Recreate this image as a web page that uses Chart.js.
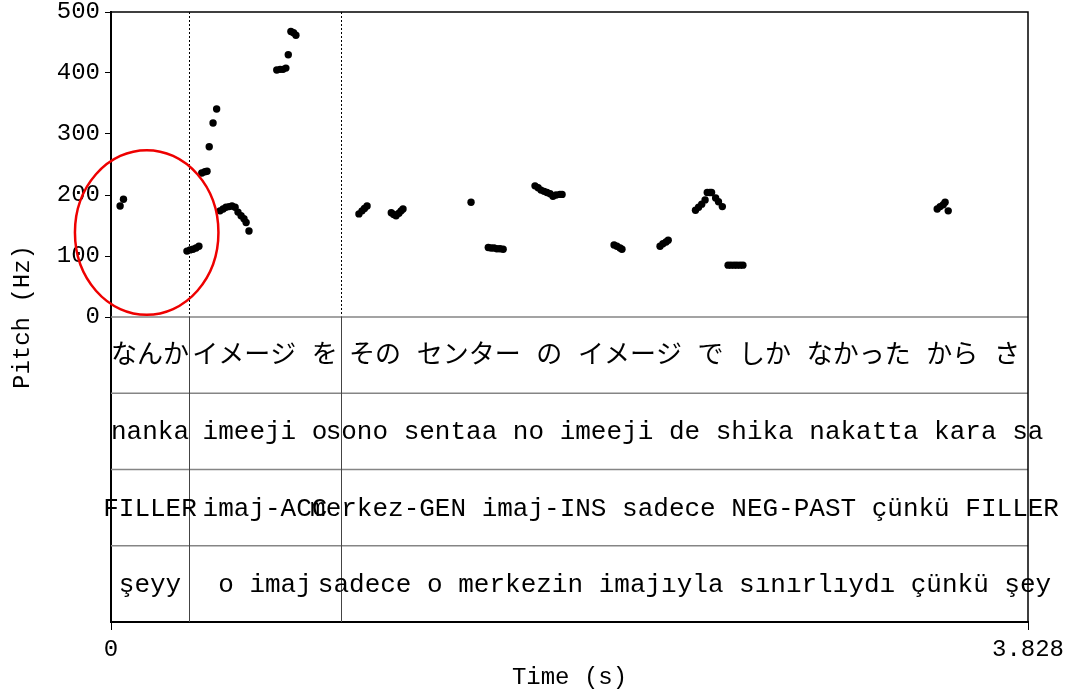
<!DOCTYPE html>
<html>
<head>
<meta charset="utf-8">
<script src="https://cdn.jsdelivr.net/npm/chart.js@4.4.1/dist/chart.umd.min.js"></script>
<style>
  html, body { margin: 0; padding: 0; background: #fff; }
</style>
</head>
<body>
<canvas id="pitch" width="1083" height="695"></canvas>
<script>
// pitch track (time in s, F0 in Hz)
var pitchTimes = [
  0.038, 0.052,
  0.317, 0.330, 0.342, 0.355, 0.367,
  0.379, 0.392, 0.401,
  0.410, 0.426, 0.441,
  0.455, 0.468, 0.480, 0.493, 0.505, 0.518, 0.530, 0.543, 0.555, 0.564, 0.576,
  0.692, 0.706, 0.718, 0.730, 0.740,
  0.751, 0.762, 0.772,
  1.035, 1.048, 1.058, 1.069,
  1.170, 1.180, 1.190, 1.202, 1.211, 1.219,
  1.503,
  1.575, 1.587, 1.599, 1.611, 1.624, 1.637,
  1.770, 1.783, 1.795, 1.808, 1.820, 1.833, 1.845, 1.858, 1.874, 1.883,
  2.100, 2.112, 2.125, 2.133,
  2.292, 2.304, 2.317, 2.326,
  2.440, 2.453, 2.466, 2.480, 2.489, 2.500, 2.507, 2.524, 2.536, 2.552,
  2.576, 2.588, 2.601, 2.613, 2.626, 2.638,
  3.449, 3.461, 3.474, 3.482, 3.495
];
var pitchHz = [
  182, 193,
  108, 110, 111, 113, 116,
  236, 238, 239,
  279, 318, 341,
  174, 177, 180, 181, 182, 180, 172, 166, 161, 155, 141,
  405, 406, 406, 408, 430,
  468, 466, 462,
  169, 174, 178, 182,
  171, 168, 166, 170, 174, 177,
  188,
  114, 113, 113, 112, 112, 111,
  215, 212, 208, 206, 204, 202, 198, 200, 201, 201,
  118, 116, 113, 111,
  116, 120, 123, 126,
  175, 180, 185, 192, 204, 204, 204, 195, 189, 181,
  85, 85, 85, 85, 85, 85,
  177, 181, 184, 188, 174
];

// text grid
var boundaries = [0, 0.3256, 0.960, 3.828];
var tierJapanese = ["なんか", "イメージ を", "その センター の イメージ で しか なかった から さ"];
var tierRomaji = ["nanka", "imeeji o", "sono sentaa no imeeji de shika nakatta kara sa"];
var tierGloss = ["FILLER", "imaj-ACC", "merkez-GEN imaj-INS sadece NEG-PAST çünkü FILLER"];
var tierTurkish = ["şeyy", "o imaj", "sadece o merkezin imajıyla sınırlıydı çünkü şey"];

var yTicks = [0, 100, 200, 300, 400, 500];
var xTicks = [0, 3.828];

// red circle drawn over the first word
var circled = { t: 0.149, hz: 138.5, rt: 0.2995, rhz: 135 };

var mono = '"Liberation Mono", "Courier New", monospace';

var points = pitchTimes.map(function (t, i) {
  return { x: t, y: pitchHz[i] };
});

var praatPlugin = {
  id: "praat",
  beforeDatasetsDraw: function (chart) {
    var ctx = chart.ctx;
    var area = chart.chartArea;
    var x = chart.scales.x;
    var y = chart.scales.y;
    var zero = y.getPixelForValue(0);
    var i, r, px;

    ctx.save();

    // dotted interval boundaries in the pitch pane
    ctx.strokeStyle = "#000";
    ctx.lineWidth = 1;
    ctx.setLineDash([2, 2]);
    for (i = 1; i < boundaries.length - 1; i++) {
      px = Math.round(x.getPixelForValue(boundaries[i])) + 0.5;
      ctx.beginPath();
      ctx.moveTo(px, area.top);
      ctx.lineTo(px, zero);
      ctx.stroke();
    }
    ctx.setLineDash([]);

    var tiers = [tierJapanese, tierRomaji, tierGloss, tierTurkish];
    var rowH = (area.bottom - zero) / tiers.length;

    // tier separators
    ctx.strokeStyle = "#858585";
    ctx.lineWidth = 1.5;
    for (r = 0; r < tiers.length; r++) {
      var ly = zero + r * rowH;
      ctx.beginPath();
      ctx.moveTo(area.left, ly);
      ctx.lineTo(area.right, ly);
      ctx.stroke();
    }

    // solid interval boundaries in the tiers
    ctx.strokeStyle = "#444";
    ctx.lineWidth = 1;
    for (i = 1; i < boundaries.length - 1; i++) {
      px = Math.round(x.getPixelForValue(boundaries[i])) + 0.5;
      ctx.beginPath();
      ctx.moveTo(px, zero);
      ctx.lineTo(px, area.bottom);
      ctx.stroke();
    }

    // labels, centred in each interval
    ctx.fillStyle = "#000";
    ctx.textAlign = "center";
    ctx.textBaseline = "middle";
    for (r = 0; r < tiers.length; r++) {
      ctx.font = r === 0 ? '26px "Liberation Mono", "Noto Sans CJK JP"' : "26px " + mono;
      var cy = zero + (r + 0.5) * rowH + 1;
      for (i = 0; i < tiers[r].length; i++) {
        var cx = (x.getPixelForValue(boundaries[i]) + x.getPixelForValue(boundaries[i + 1])) / 2;
        ctx.fillText(tiers[r][i], cx, cy);
      }
    }

    // top and right frame
    ctx.strokeStyle = "#000";
    ctx.lineWidth = 1.5;
    ctx.beginPath();
    ctx.moveTo(area.left, area.top);
    ctx.lineTo(area.right, area.top);
    ctx.lineTo(area.right, area.bottom);
    ctx.stroke();

    ctx.restore();
  },
  afterDatasetsDraw: function (chart) {
    var ctx = chart.ctx;
    var x = chart.scales.x;
    var y = chart.scales.y;
    var cx = x.getPixelForValue(circled.t);
    var cy = y.getPixelForValue(circled.hz);
    var rx = x.getPixelForValue(circled.t + circled.rt) - cx;
    var ry = cy - y.getPixelForValue(circled.hz + circled.rhz);
    ctx.save();
    ctx.strokeStyle = "#ee0000";
    ctx.lineWidth = 2.5;
    ctx.beginPath();
    ctx.ellipse(cx, cy, rx, ry, 0, 0, Math.PI * 2);
    ctx.stroke();
    ctx.restore();
  }
};

new Chart(document.getElementById("pitch"), {
  type: "scatter",
  data: {
    datasets: [{
      data: points,
      pointRadius: 3.7,
      pointBackgroundColor: "#000",
      pointBorderWidth: 0,
      showLine: false
    }]
  },
  options: {
    responsive: false,
    animation: false,
    events: [],
    layout: { padding: { top: 12, right: 55, left: 0, bottom: 0 } },
    plugins: {
      legend: { display: false },
      tooltip: { enabled: false }
    },
    scales: {
      x: {
        type: "linear",
        min: 0,
        max: 3.828,
        afterBuildTicks: function (scale) {
          scale.ticks = xTicks.map(function (v) { return { value: v }; });
        },
        afterFit: function (scale) {
          scale.height = 73;
          scale.paddingLeft = 0;
          scale.paddingRight = 0;
        },
        ticks: {
          autoSkip: false,
          maxRotation: 0,
          padding: 5,
          color: "#000",
          font: { family: mono, size: 24 },
          callback: function (v) { return String(v); }
        },
        grid: { drawOnChartArea: false, tickLength: 8, color: "#000" },
        border: { color: "#000", width: 2 },
        title: {
          display: true,
          text: "Time (s)",
          color: "#000",
          font: { family: mono, size: 24 },
          padding: { top: 0, bottom: 3 }
        }
      },
      y: {
        type: "linear",
        min: -500,
        max: 500,
        afterBuildTicks: function (scale) {
          scale.ticks = yTicks.map(function (v) { return { value: v }; });
        },
        afterFit: function (scale) {
          scale.width = 111;
          scale.paddingTop = 0;
          scale.paddingBottom = 0;
        },
        ticks: {
          padding: 5,
          color: "#000",
          font: { family: mono, size: 24 }
        },
        grid: { drawOnChartArea: false, tickLength: 6, color: "#000" },
        border: { color: "#000", width: 2 },
        title: {
          display: true,
          text: "Pitch (Hz)",
          color: "#000",
          font: { family: mono, size: 24 },
          padding: { top: 8, bottom: 0 }
        }
      }
    }
  },
  plugins: [praatPlugin]
});
</script>
</body>
</html>
